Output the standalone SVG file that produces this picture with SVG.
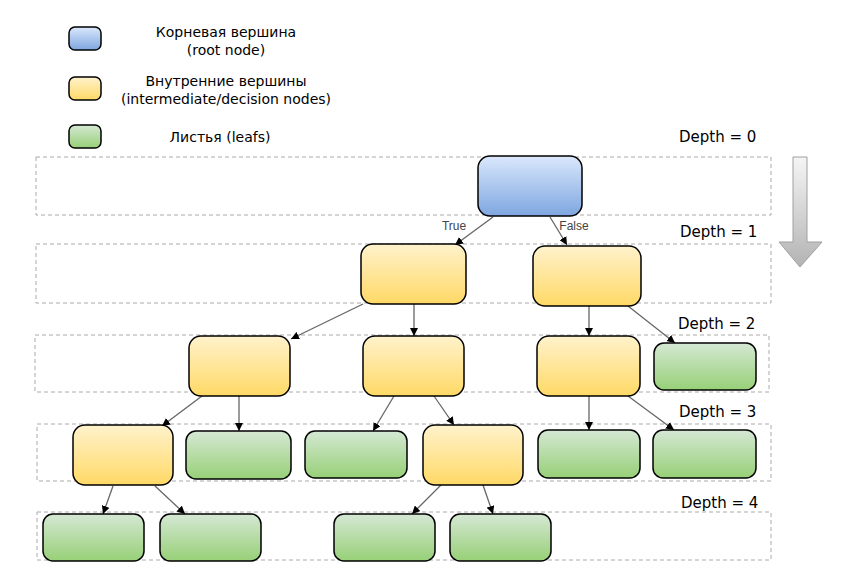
<svg xmlns="http://www.w3.org/2000/svg" width="860" height="579" viewBox="0 0 860 579">
<style>
.band{fill:none;stroke:#aaaaaa;stroke-width:1;stroke-dasharray:4 3}
.root{fill:url(#gBlue);stroke:#000;stroke-width:1.5}
.mid{fill:url(#gYellow);stroke:#000;stroke-width:1.5}
.leaf{fill:url(#gGreen);stroke:#000;stroke-width:1.5}
.edge{stroke:#666666;stroke-width:1.3;fill:none;marker-end:url(#arr)}
.lbl{font-family:"DejaVu Sans",sans-serif;font-size:14px;fill:#000;text-anchor:middle}
.depth{font-family:"DejaVu Sans",sans-serif;font-size:15px;fill:#000}
.el{font-family:"Liberation Sans",Arial,sans-serif;font-size:12px;fill:#444;text-anchor:middle}
</style>
<defs>
<linearGradient id="gBlue" x1="0" y1="0" x2="0" y2="1"><stop offset="0" stop-color="#dae8fc"/><stop offset="1" stop-color="#7ea6e0"/></linearGradient>
<linearGradient id="gYellow" x1="0" y1="0" x2="0" y2="1"><stop offset="0" stop-color="#fff2cc"/><stop offset="1" stop-color="#ffd966"/></linearGradient>
<linearGradient id="gGreen" x1="0" y1="0" x2="0" y2="1"><stop offset="0" stop-color="#d5e8d4"/><stop offset="1" stop-color="#97d077"/></linearGradient>
<linearGradient id="gArrow" x1="0" y1="0" x2="0" y2="1"><stop offset="0" stop-color="#f5f5f5"/><stop offset="1" stop-color="#b3b3b3"/></linearGradient>
<marker id="arr" viewBox="0 0 10 10" refX="10" refY="5" markerWidth="8" markerHeight="8" markerUnits="userSpaceOnUse" orient="auto"><path d="M0,0 L10,5 L0,10 z" fill="#000"/></marker>
</defs>

<g id="legend">
<rect class="root" x="69" y="27" width="32" height="23" rx="6"/>
<rect class="mid" x="69" y="77" width="32" height="23" rx="6"/>
<rect class="leaf" x="69" y="125" width="32" height="23" rx="6"/>
<text class="lbl" x="226" y="37">Корневая вершина</text>
<text class="lbl" x="226" y="55">(root node)</text>
<text class="lbl" x="226" y="86">Внутренние вершины</text>
<text class="lbl" x="226" y="104">(intermediate/decision nodes)</text>
<text class="lbl" x="220" y="142">Листья (leafs)</text>
</g>

<g id="bands">
<rect class="band" x="36" y="157" width="735" height="58"/>
<rect class="band" x="36" y="244" width="735" height="59"/>
<rect class="band" x="35" y="335" width="734" height="57"/>
<rect class="band" x="37" y="424" width="734" height="57"/>
<rect class="band" x="37" y="512" width="734" height="48"/>
</g>

<g id="depth-labels">
<text class="depth" x="679" y="142">Depth = 0</text>
<text class="depth" x="680" y="237">Depth = 1</text>
<text class="depth" x="678" y="329">Depth = 2</text>
<text class="depth" x="679" y="417">Depth = 3</text>
<text class="depth" x="681" y="508">Depth = 4</text>
</g>

<g id="depth-arrow">
<path d="M793,157 L807,157 L807,242 L822,242 L800,267 L779,242 L793,242 Z" fill="url(#gArrow)" stroke="#a0a0a0" stroke-width="1"/>
</g>

<g id="connectors">
<line class="edge" x1="493" y1="217" x2="455" y2="245"/>
<line class="edge" x1="550" y1="217" x2="567" y2="245"/>
<line class="edge" x1="363" y1="304" x2="291" y2="339"/>
<line class="edge" x1="414" y1="304" x2="414" y2="336"/>
<line class="edge" x1="589" y1="306" x2="589" y2="336"/>
<line class="edge" x1="628" y1="306" x2="675" y2="343"/>
<line class="edge" x1="202" y1="396" x2="162" y2="426"/>
<line class="edge" x1="239" y1="396" x2="239" y2="431"/>
<line class="edge" x1="394" y1="396" x2="373" y2="431"/>
<line class="edge" x1="434" y1="396" x2="454" y2="425"/>
<line class="edge" x1="589" y1="396" x2="589" y2="430"/>
<line class="edge" x1="628" y1="396" x2="674" y2="430"/>
<line class="edge" x1="113" y1="486" x2="103" y2="514"/>
<line class="edge" x1="155" y1="486" x2="185" y2="514"/>
<line class="edge" x1="441" y1="485" x2="412" y2="514"/>
<line class="edge" x1="483" y1="485" x2="493" y2="514"/>
<text class="el" x="454" y="230">True</text>
<text class="el" x="574" y="230">False</text>
</g>

<g id="n-root"><rect class="root" x="478" y="156" width="104" height="60" rx="12"/></g>
<g id="n-d1-left"><rect class="mid" x="361" y="244" width="105" height="60" rx="12"/></g>
<g id="n-d1-right"><rect class="mid" x="533" y="246" width="108" height="60" rx="12"/></g>
<g id="n-d2-a"><rect class="mid" x="189" y="336" width="101" height="60" rx="12"/></g>
<g id="n-d2-b"><rect class="mid" x="363" y="336" width="101" height="60" rx="12"/></g>
<g id="n-d2-c"><rect class="mid" x="537" y="336" width="103" height="60" rx="12"/></g>
<g id="n-d2-d"><rect class="leaf" x="654" y="343" width="102" height="47" rx="10"/></g>
<g id="n-d3-e"><rect class="mid" x="73" y="425" width="100" height="60" rx="12"/></g>
<g id="n-d3-f"><rect class="leaf" x="186" y="431" width="105" height="48" rx="10"/></g>
<g id="n-d3-g"><rect class="leaf" x="305" y="431" width="102" height="47" rx="10"/></g>
<g id="n-d3-h"><rect class="mid" x="423" y="425" width="100" height="60" rx="12"/></g>
<g id="n-d3-i"><rect class="leaf" x="538" y="430" width="102" height="48" rx="10"/></g>
<g id="n-d3-j"><rect class="leaf" x="653" y="430" width="103" height="48" rx="10"/></g>
<g id="n-d4-k"><rect class="leaf" x="43" y="514" width="101" height="47" rx="10"/></g>
<g id="n-d4-l"><rect class="leaf" x="160" y="514" width="101" height="47" rx="10"/></g>
<g id="n-d4-m"><rect class="leaf" x="334" y="514" width="101" height="47" rx="10"/></g>
<g id="n-d4-n"><rect class="leaf" x="450" y="514" width="101" height="47" rx="10"/></g>
</svg>
